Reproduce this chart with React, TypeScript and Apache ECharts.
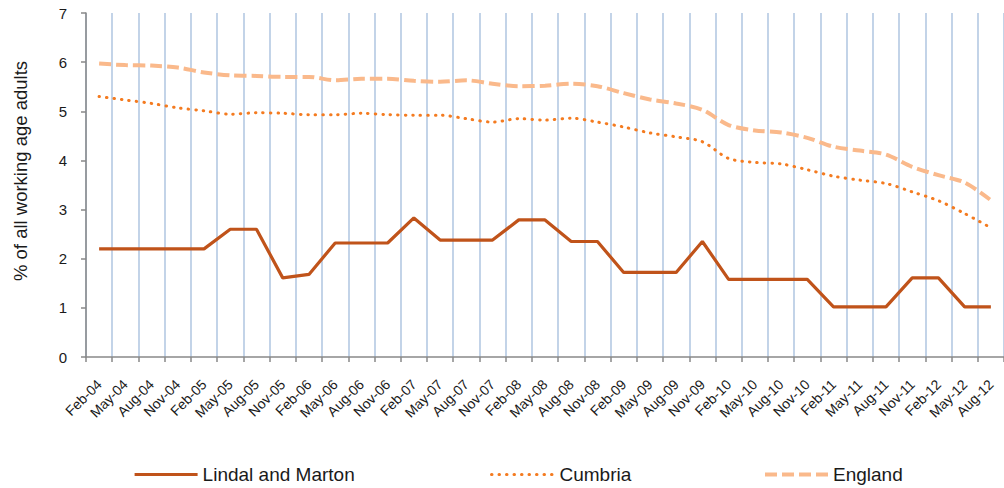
import React, { useEffect, useRef } from "react";
import * as echarts from "echarts";

const categories = [
  "Feb-04", "May-04", "Aug-04", "Nov-04",
  "Feb-05", "May-05", "Aug-05", "Nov-05",
  "Feb-06", "May-06", "Aug-06", "Nov-06",
  "Feb-07", "May-07", "Aug-07", "Nov-07",
  "Feb-08", "May-08", "Aug-08", "Nov-08",
  "Feb-09", "May-09", "Aug-09", "Nov-09",
  "Feb-10", "May-10", "Aug-10", "Nov-10",
  "Feb-11", "May-11", "Aug-11", "Nov-11",
  "Feb-12", "May-12", "Aug-12",
];

const lindalAndMarton = [
  2.2, 2.2, 2.2, 2.2, 2.2, 2.6, 2.6, 1.61, 1.68, 2.32, 2.32, 2.32,
  2.83, 2.38, 2.38, 2.38, 2.79, 2.79, 2.35, 2.35, 1.72, 1.72, 1.72, 2.35,
  1.58, 1.58, 1.58, 1.58, 1.02, 1.02, 1.02, 1.61, 1.61, 1.02, 1.02,
];

const cumbria = [
  5.3, 5.23, 5.16, 5.07, 5.01, 4.94, 4.97, 4.96, 4.93, 4.93, 4.96, 4.93,
  4.92, 4.92, 4.85, 4.78, 4.85, 4.82, 4.86, 4.78, 4.68, 4.56, 4.48, 4.38,
  4.04, 3.96, 3.93, 3.81, 3.68, 3.6, 3.53, 3.36, 3.18, 2.92, 2.63,
];

const england = [
  5.97, 5.94, 5.93, 5.89, 5.79, 5.73, 5.72, 5.7, 5.7, 5.63, 5.66, 5.66,
  5.62, 5.6, 5.63, 5.56, 5.51, 5.52, 5.56, 5.51, 5.37, 5.24, 5.16, 5.03,
  4.72, 4.61, 4.57, 4.46, 4.28, 4.2, 4.12, 3.87, 3.7, 3.55, 3.19,
];

const seriesNames = ["Lindal and Marton", "Cumbria", "England"];
const yTicks = { min: 0, max: 7, interval: 1 };
const yAxisTitle = "% of all working age adults";

const FONT = "'Liberation Sans', Arial, sans-serif";
const AXIS_GRAY = "#898989";
const TEXT = "#1a1a1a";

export default function App() {
  const ref = useRef<HTMLDivElement>(null);

  useEffect(() => {
    if (!ref.current) return;
    const chart = echarts.init(ref.current, undefined, { renderer: "svg" });
    const legendBase = {
      top: 465,
      itemWidth: 63,
      itemHeight: 14,
      itemStyle: { opacity: 0 },
      textStyle: { fontFamily: FONT, fontSize: 19, color: TEXT },
      padding: 0,
    };
    chart.setOption({
      animation: false,
      backgroundColor: "#ffffff",
      textStyle: { fontFamily: FONT },
      grid: { left: 86, top: 13, width: 921, height: 344, containLabel: false },
      legend: [
        { ...legendBase, left: 133, data: [seriesNames[0]], lineStyle: { opacity: 1, width: 3.2 } },
        { ...legendBase, left: 490, data: [seriesNames[1]], lineStyle: { opacity: 1, width: 3 } },
        { ...legendBase, left: 763, data: [seriesNames[2]], lineStyle: { opacity: 1, width: 4 } },
      ],
      graphic: [
        {
          type: "text",
          x: 20,
          y: 171,
          rotation: Math.PI / 2,
          style: {
            text: yAxisTitle,
            fontFamily: FONT,
            fontSize: 18.5,
            fill: TEXT,
            align: "center",
            verticalAlign: "middle",
          },
        },
      ],
      xAxis: {
        type: "category",
        data: categories,
        boundaryGap: true,
        axisLine: { lineStyle: { color: AXIS_GRAY, width: 1.5 } },
        axisTick: { show: true, length: 5, lineStyle: { color: AXIS_GRAY, width: 1.5 } },
        splitLine: { show: true, lineStyle: { color: "#B4C9E3", width: 1.6 } },
        axisLabel: {
          interval: 0,
          rotate: 45,
          margin: 25,
          fontSize: 14,
          fontFamily: FONT,
          color: TEXT,
        },
      },
      yAxis: {
        type: "value",
        min: yTicks.min,
        max: yTicks.max,
        interval: yTicks.interval,
        axisLine: { show: true, lineStyle: { color: AXIS_GRAY, width: 1.5 } },
        axisTick: { show: true, length: 5, lineStyle: { color: AXIS_GRAY, width: 1.5 } },
        splitLine: { show: false },
        axisLabel: { margin: 19, fontSize: 15, fontFamily: FONT, color: TEXT },
      },
      series: [
        {
          name: seriesNames[0],
          type: "line",
          data: lindalAndMarton,
          symbol: "none",
          lineStyle: { color: "#C0531A", width: 3.2 },
          itemStyle: { color: "#C0531A" },
          z: 5,
        },
        {
          name: seriesNames[1],
          type: "line",
          data: cumbria,
          symbol: "none",
          smooth: 0.3,
          lineStyle: { color: "#F47B20", width: 3, type: [0.5, 7], cap: "round" },
          itemStyle: { color: "#F47B20" },
          z: 4,
        },
        {
          name: seriesNames[2],
          type: "line",
          data: england,
          symbol: "none",
          smooth: 0.3,
          lineStyle: { color: "#FAB98B", width: 4, type: [12, 5] },
          itemStyle: { color: "#FAB98B" },
          z: 3,
        },
      ],
    });
    return () => chart.dispose();
  }, []);

  return (
    <div
      ref={ref}
      style={{ position: "fixed", left: 0, top: 0, width: 1004, height: 488 }}
    />
  );
}
